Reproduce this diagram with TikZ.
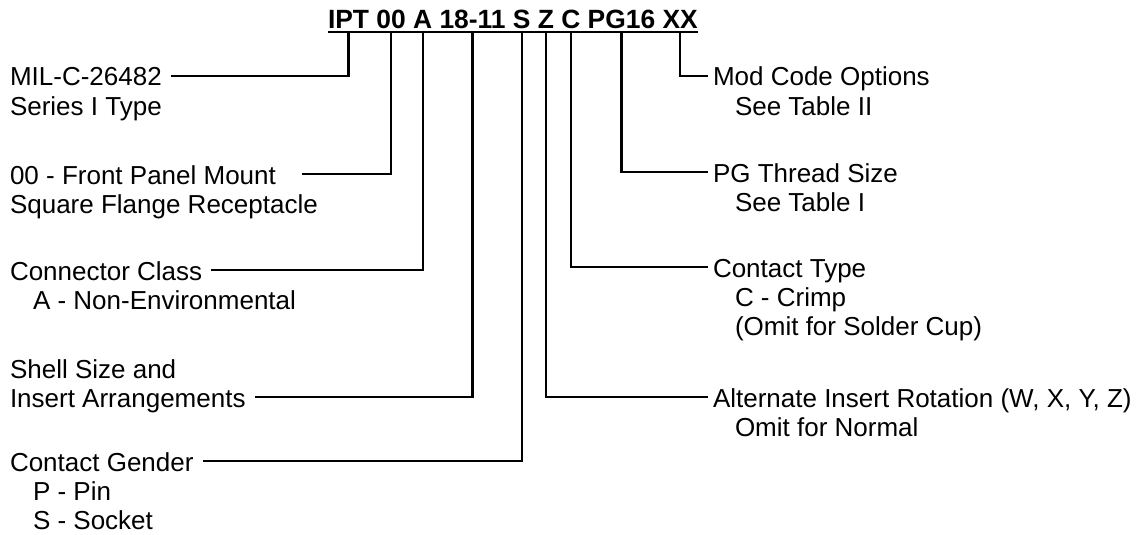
\documentclass[tikz,border=0pt]{standalone}
\usepackage{fontspec}
\setmainfont{Liberation Sans}
\begin{document}
\begin{tikzpicture}[x=1pt,y=-1pt,
  ttl/.style={font=\fontsize{26.4}{30}\selectfont\bfseries, inner sep=0pt, outer sep=0pt, text depth=3pt, anchor=base west},
  lbl/.style={font=\fontsize{26}{32}\selectfont, inner sep=0pt, outer sep=0pt, text height=20pt, text depth=0pt, anchor=base west},
  conn/.style={line width=2.2pt},
  uline/.style={line width=2.6pt}]
\useasboundingbox (0,0) rectangle (1144,535);
\def\spw{7.34pt}
% title segments
\node[ttl] (ipt) at (328,29) {IPT};
\node[ttl] (t00) at ([xshift=\spw]ipt.base east) {00};
\node[ttl] (ta) at ([xshift=\spw]t00.base east) {A};
\node[ttl] (tsz) at ([xshift=\spw]ta.base east) {18-11};
\node[ttl] (ts) at ([xshift=\spw]tsz.base east) {S};
\node[ttl] (tz) at ([xshift=\spw]ts.base east) {Z};
\node[ttl] (tc) at ([xshift=\spw]tz.base east) {C};
\node[ttl] (tpg) at ([xshift=\spw]tc.base east) {PG16};
\node[ttl] (txx) at ([xshift=\spw]tpg.base east) {XX};
\draw[uline] (ipt.south west) -- (txx.south east);
% left labels
\node[lbl] (mil) at (10,86) {MIL-C-26482};
\node[lbl] (mil2) at (10,115) {Series I Type};
\node[lbl] (front) at (10,184) {00 - Front Panel Mount};
\node[lbl] (front2) at (10,213) {Square Flange Receptacle};
\node[lbl] (cclass) at (10,280) {Connector Class};
\node[lbl] (cclass2) at (33,309) {A - Non-Environmental};
\node[lbl] (shell) at (10,378) {Shell Size and};
\node[lbl] (insert) at (10,407) {Insert Arrangements};
\node[lbl] (gender) at (10,471) {Contact Gender};
\node[lbl] (pin) at (33,500) {P - Pin};
\node[lbl] (socket) at (33,529) {S - Socket};
% right labels
\node[lbl] (mod) at (713,86) {Mod Code Options};
\node[lbl] (mod2) at (735,115) {See Table II};
\node[lbl] (pg) at (713,182) {PG Thread Size};
\node[lbl] (pg2) at (735,211) {See Table I};
\node[lbl] (ctype) at (713,277) {Contact Type};
\node[lbl] (ctype2) at (735,306) {C - Crimp};
\node[lbl] (ctype3) at (735,335) {(Omit for Solder Cup)};
\node[lbl] (alt) at (713,407) {Alternate Insert Rotation (W, X, Y, Z)};
\node[lbl] (alt2) at (735,436) {Omit for Normal};
% connectors
\draw[conn, shorten >=9pt] (ipt) |- (mil);
\draw[conn, shorten >=26pt] (t00) |- (front);
\draw[conn, shorten >=9pt] (ta) |- (cclass);
\draw[conn, shorten >=9pt] (tsz) |- (insert);
\draw[conn, shorten >=9pt] (ts) |- (gender);
\draw[conn, shorten >=5pt] (tz) |- (alt);
\draw[conn, shorten >=5pt] (tc) |- (ctype);
\draw[conn, shorten >=5pt] (tpg) |- (pg);
\draw[conn, shorten >=5pt] (txx) |- (mod);
\end{tikzpicture}
\end{document}
